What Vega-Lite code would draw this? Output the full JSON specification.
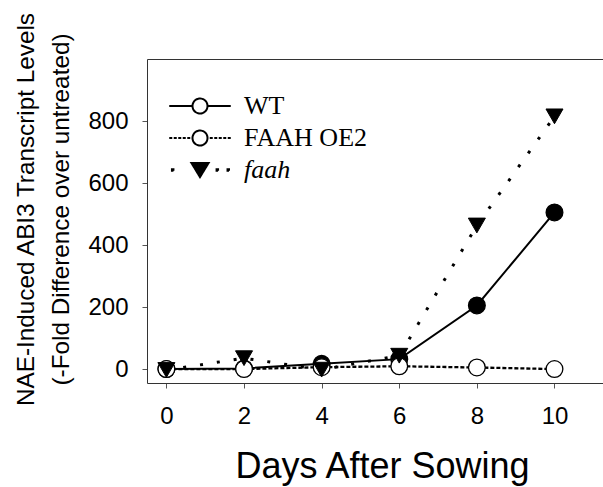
{
  "$schema": "https://vega.github.io/schema/vega-lite/v6.json",
  "width": 456,
  "height": 324,
  "autosize": {"type": "none"},
  "padding": {"left": 147, "top": 59, "right": 0, "bottom": 104},
  "background": "white",
  "config": {
    "view": {"stroke": null},
    "font": "Liberation Sans",
    "axis": {"grid": false, "domainColor": "#333333", "tickColor": "#555555", "labelColor": "black", "titleColor": "black", "labelFont": "Liberation Sans", "titleFont": "Liberation Sans", "titleFontWeight": "normal"}
  },
  "data": {
    "values": [
      {"day": 0, "value": 0, "series": "WT"},
      {"day": 2, "value": 2, "series": "WT"},
      {"day": 4, "value": 17, "series": "WT"},
      {"day": 6, "value": 32, "series": "WT"},
      {"day": 8, "value": 205, "series": "WT"},
      {"day": 10, "value": 505, "series": "WT"},
      {"day": 0, "value": 0, "series": "FAAH OE2"},
      {"day": 2, "value": 0, "series": "FAAH OE2"},
      {"day": 4, "value": 6, "series": "FAAH OE2"},
      {"day": 6, "value": 9, "series": "FAAH OE2"},
      {"day": 8, "value": 5, "series": "FAAH OE2"},
      {"day": 10, "value": 0, "series": "FAAH OE2"},
      {"day": 0, "value": -3, "series": "faah"},
      {"day": 2, "value": 35, "series": "faah"},
      {"day": 4, "value": -2, "series": "faah"},
      {"day": 6, "value": 43, "series": "faah"},
      {"day": 8, "value": 463, "series": "faah"},
      {"day": 10, "value": 815, "series": "faah"}
    ]
  },
  "encoding": {
    "y": {
      "field": "value",
      "type": "quantitative",
      "scale": {"domain": [-45, 1000], "nice": false, "zero": false},
      "axis": {
        "values": [0, 200, 400, 600, 800],
        "tickSize": 5,
        "labelFontSize": 24,
        "labelPadding": 14,
        "title": ["NAE-Induced ABI3 Transcript Levels", "(-Fold Difference over untreated)"],
        "titleFontSize": 24.3,
        "titleLineHeight": 35,
        "titleAngle": -90,
        "titleAlign": "center",
        "titleBaseline": "alphabetic",
        "titleX": -114,
        "titleY": 150
      }
    }
  },
  "resolve": {"axis": {"x": "independent"}},
  "layer": [
    {
      "transform": [{"filter": "datum.series === 'faah'"}],
      "mark": {"type": "line", "color": "black", "strokeWidth": 3, "strokeDash": [3, 14], "strokeCap": "butt"},
      "encoding": {
        "x": {"field": "day", "type": "quantitative", "scale": {"domain": [-0.5, 11.25], "nice": false, "zero": false}, "axis": null}
      }
    },
    {
      "transform": [{"filter": "datum.series === 'FAAH OE2'"}],
      "mark": {"type": "line", "color": "black", "strokeWidth": 2.3, "strokeDash": [4, 2], "strokeCap": "butt"},
      "encoding": {
        "x": {"field": "day", "type": "quantitative", "scale": {"domain": [-0.5, 11.25], "nice": false, "zero": false}, "axis": null}
      }
    },
    {
      "transform": [{"filter": "datum.series === 'WT'"}],
      "mark": {"type": "line", "strokeWidth": 2},
      "encoding": {
        "x": {
          "field": "day",
          "type": "quantitative",
          "scale": {"domain": [-0.5, 11.25], "nice": false, "zero": false},
          "axis": {
            "orient": "bottom",
            "values": [0, 2, 4, 6, 8, 10],
            "tickSize": 5,
            "labelFontSize": 24,
            "labelPadding": 16,
            "title": "Days After Sowing",
            "titleFontSize": 36,
            "titleX": 235,
            "titleY": 94,
            "titleAlign": "center",
            "titleBaseline": "alphabetic"
          }
        },
        "color": {
          "field": "series",
          "type": "nominal",
          "scale": {"domain": ["WT", "FAAH OE2", "faah"], "range": ["black", "black", "black"]},
          "legend": {
            "title": null,
            "orient": "none",
            "legendX": 40,
            "legendY": 34,
            "padding": 0,
            "rowPadding": 6,
            "labelFont": "Liberation Serif",
            "labelFontSize": 26,
            "labelColor": "black",
            "labelOffset": 31,
            "labelLimit": 300,
            "symbolSize": 225,
            "encode": {
              "symbols": {
                "update": {
                  "shape": {"signal": "datum.value === 'WT' ? 'M-4.1,0H-1M1,0H4.1M-1,0A1,1,0,1,1,1,0A1,1,0,1,1,-1,0' : datum.value === 'FAAH OE2' ? 'M-4.1,0H-3.7M-3.5,0H-3.1M-2.9,0H-2.5M-2.3,0H-1.9M-1.7,0H-1.3M1.3,0H1.7M1.9,0H2.3M2.5,0H2.9M3.1,0H3.5M3.7,0H4.1M-1,0A1,1,0,1,1,1,0A1,1,0,1,1,-1,0' : 'M-3.74,-0.1h0.2v0.2h-0.2ZM2.21,-0.1h0.2v0.2h-0.2ZM3.67,-0.1h0.2v0.2h-0.2ZM0,0.95L1.15,-0.95L-1.15,-0.95Z'"},
                  "fill": {"signal": "datum.value === 'faah' ? 'black' : 'white'"},
                  "fillOpacity": {"value": 1},
                  "strokeWidth": {"value": 2},
                  "strokeDash": {"value": [1, 0]},
                  "size": {"value": 225},
                  "opacity": {"value": 1}
                }
              },
              "labels": {
                "update": {
                  "fontStyle": {"signal": "datum.value === 'faah' ? 'italic' : 'normal'"}
                }
              }
            }
          }
        }
      }
    },
    {
      "transform": [{"filter": "datum.series === 'WT'"}],
      "mark": {"type": "point", "shape": "circle", "filled": true, "fill": "black", "size": 280, "stroke": "black", "strokeWidth": 1.3, "opacity": 1},
      "encoding": {
        "x": {
          "field": "day",
          "type": "quantitative",
          "scale": {"domain": [-0.5, 11.25], "nice": false, "zero": false},
          "axis": {"orient": "top", "ticks": false, "labels": false, "title": null}
        }
      }
    },
    {
      "transform": [{"filter": "datum.series === 'FAAH OE2'"}],
      "mark": {"type": "point", "shape": "circle", "filled": true, "fill": "white", "size": 280, "stroke": "black", "strokeWidth": 1.3, "opacity": 1},
      "encoding": {
        "x": {"field": "day", "type": "quantitative", "scale": {"domain": [-0.5, 11.25], "nice": false, "zero": false}, "axis": null}
      }
    },
    {
      "transform": [{"filter": "datum.series === 'faah'"}],
      "mark": {"type": "point", "shape": "triangle-down", "filled": true, "fill": "black", "size": 290, "stroke": "black", "strokeWidth": 1, "opacity": 1},
      "encoding": {
        "x": {"field": "day", "type": "quantitative", "scale": {"domain": [-0.5, 11.25], "nice": false, "zero": false}, "axis": null}
      }
    }
  ]
}
